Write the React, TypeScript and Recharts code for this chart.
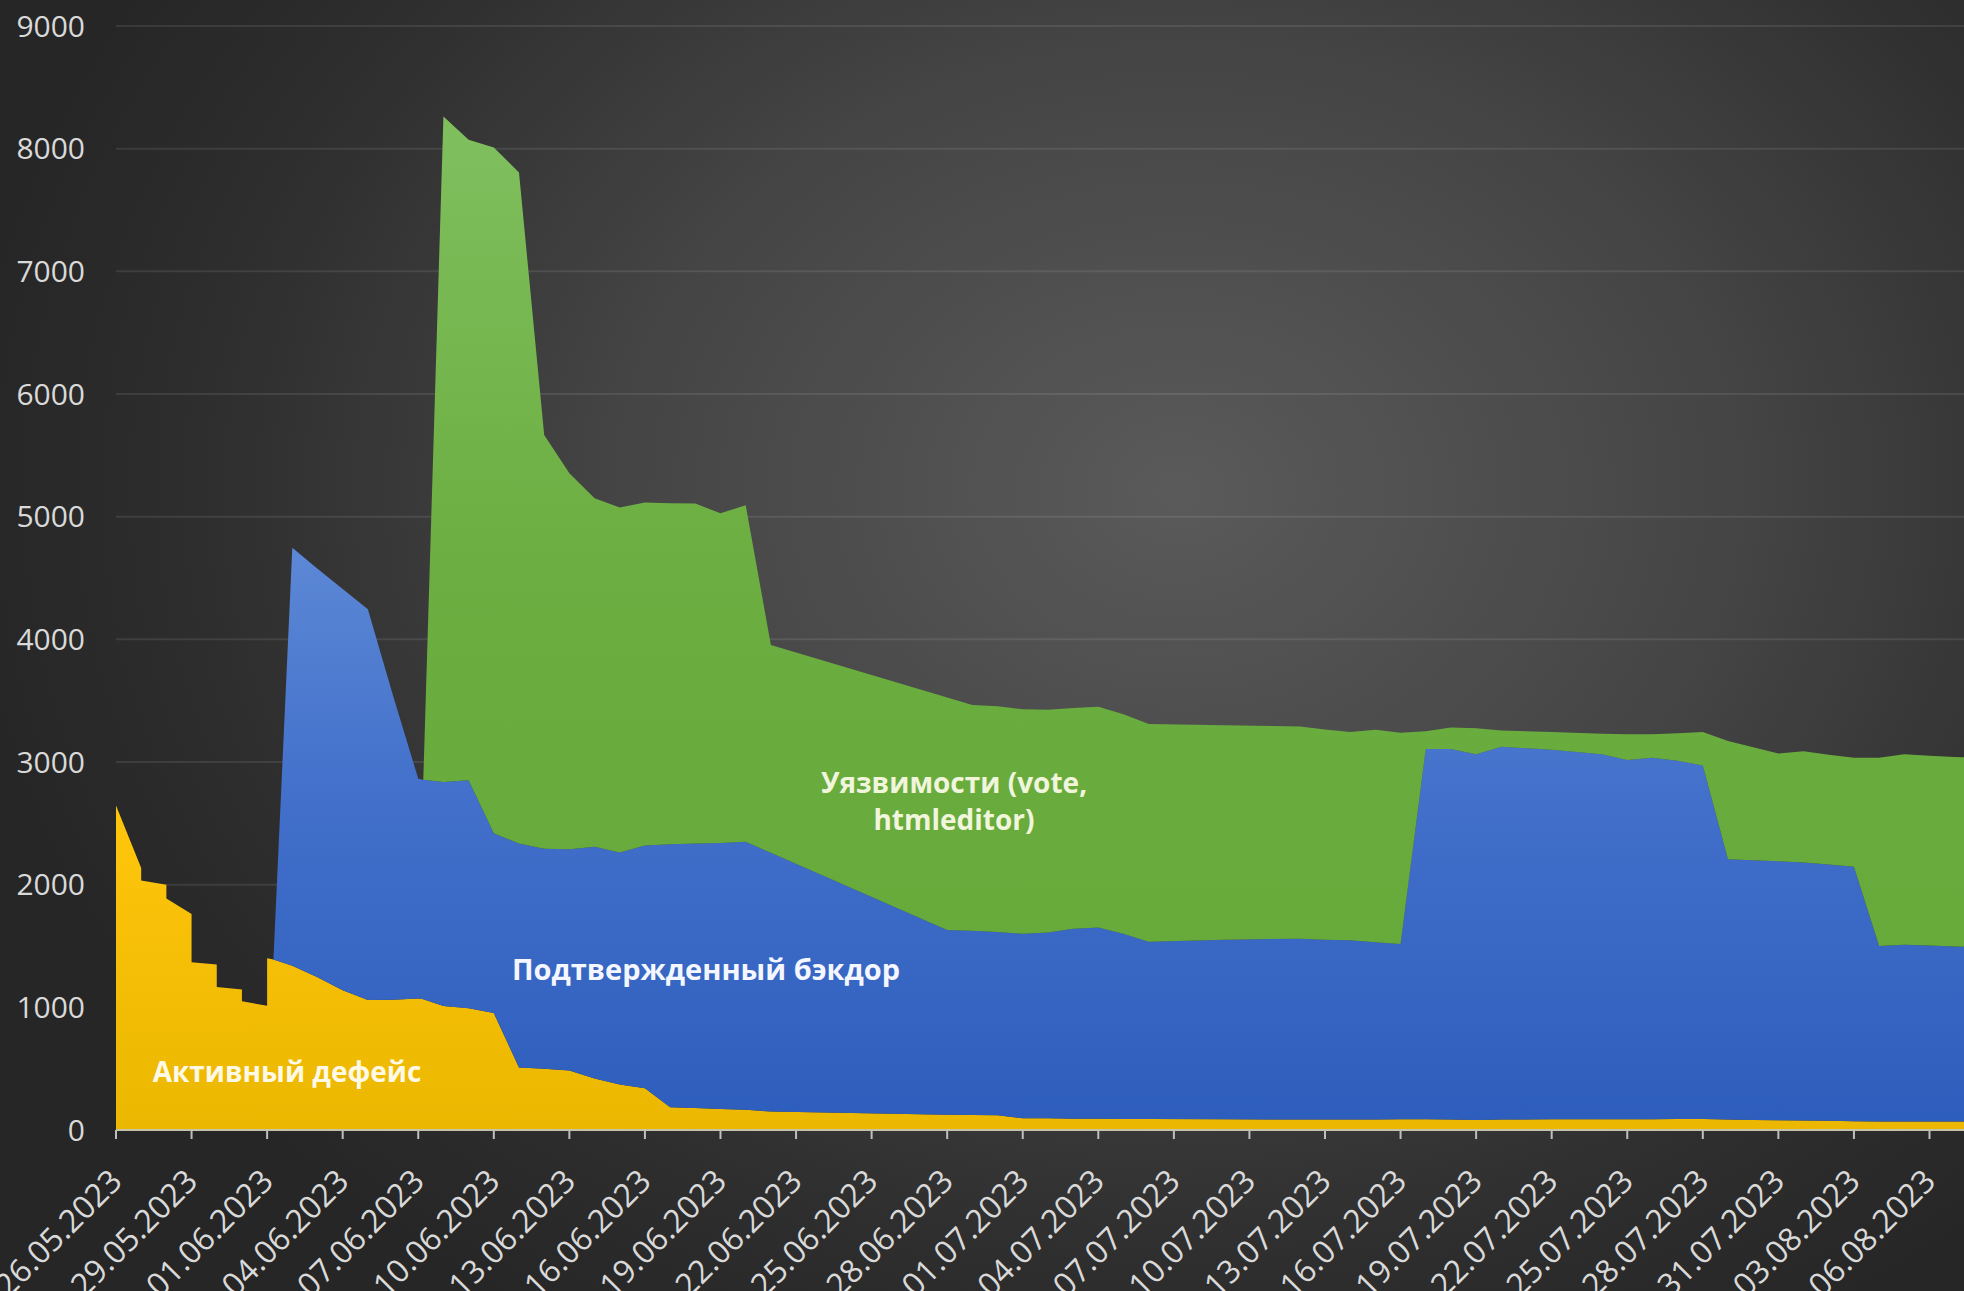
import React from 'react';
import { AreaChart, Area, XAxis, YAxis, CartesianGrid } from 'recharts';

// day offsets from 26.05.2023 (some days carry two readings -> vertical steps)
const DAYS = [
  0, 1, 1, 2, 2, 3, 3, 4, 4, 5, 5, 6, 6, 6.25, 7, 8, 9, 10, 11, 12, 12.2, 13, 14, 15, 16, 17, 18, 19, 20,
  21, 22, 23, 24, 25, 26, 33, 34, 35, 36, 37, 38, 39, 40, 41, 44, 47, 48, 49, 50, 51, 52, 53, 54, 55, 57,
  59, 60, 61, 62, 63, 64, 65, 66, 67, 68, 69, 70, 71, 72, 73, 74,
];

// Активный дефейс
const DEFACE = [
  2645, 2135, 2034, 2000, 1888, 1760, 1368, 1350, 1165, 1145, 1050, 1012, 1400, 1390, 1340, 1245, 1140, 1059, 1062, 1073, 1065, 1011, 992, 953, 510, 500, 485, 420, 370,
  340, 185, 180, 172, 165, 150, 125, 122, 120, 95, 95, 92, 92, 90, 90, 88, 85, 85, 85, 85, 88, 88, 85, 82, 85, 88,
  88, 88, 88, 90, 90, 85, 82, 80, 78, 75, 72, 70, 70, 70, 70, 70,
];

// Подтвержденный бэкдор
const BACKDOOR = [
  0, 0, 0, 0, 0, 0, 0, 0, 0, 0, 0, 0, 0, 0, 3407, 3330, 3270, 3186, 2478, 1790, 1790, 1826, 1860, 1466, 1825, 1792, 1803, 1890, 1893,
  1980, 2145, 2155, 2168, 2185, 2110, 1505, 1503, 1495, 1505, 1515, 1548, 1559, 1510, 1445, 1462, 1475, 1465, 1461, 1445, 1429, 3019, 3022, 2981, 3040, 3012,
  2975, 2928, 2946, 2920, 2882, 2123, 2118, 2110, 2102, 2090, 2074, 1429, 1440, 1435, 1425, 1420,
];

// Уязвимости (vote, htmleditor)
const VULNS = [
  0, 0, 0, 0, 0, 0, 0, 0, 0, 0, 0, 0, 0, 0, 0, 0, 0, 0, 0, 0, 0, 5425, 5220, 5591, 5471, 3374, 3065, 2840, 2812,
  2795, 2780, 2772, 2687, 2743, 1694, 1895, 1840, 1840, 1830, 1815, 1800, 1799, 1790, 1775, 1750, 1730, 1715, 1699, 1733, 1721, 143, 174, 212, 131, 145,
  167, 211, 193, 225, 273, 964, 920, 880, 908, 895, 888, 1535, 1553, 1545, 1545, 1544,
];

const TICK_DAYS = [0, 3, 6, 9, 12, 15, 18, 21, 24, 27, 30, 33, 36, 39, 42, 45, 48, 51, 54, 57, 60, 63, 66, 69, 72];
const TICK_LABELS = [
  '26.05.2023', '29.05.2023', '01.06.2023', '04.06.2023', '07.06.2023', '10.06.2023', '13.06.2023',
  '16.06.2023', '19.06.2023', '22.06.2023', '25.06.2023', '28.06.2023', '01.07.2023', '04.07.2023',
  '07.07.2023', '10.07.2023', '13.07.2023', '16.07.2023', '19.07.2023', '22.07.2023', '25.07.2023',
  '28.07.2023', '31.07.2023', '03.08.2023', '06.08.2023',
];
const Y_TICKS = [0, 1000, 2000, 3000, 4000, 5000, 6000, 7000, 8000, 9000];

const data = DAYS.map((day, i) => ({
  day,
  deface: DEFACE[i],
  backdoor: BACKDOOR[i],
  vulns: VULNS[i],
}));

const FONT = '"Open Sans", "DejaVu Sans", sans-serif';
const LABEL_GREY = '#d9d9d9';

const DateTick = ({ x, y, payload }: any) => {
  const idx = TICK_DAYS.indexOf(payload.value);
  const ax = x + 8;
  const ay = y + 42;
  return (
    <text
      x={ax}
      y={ay}
      transform={`rotate(-45, ${ax}, ${ay})`}
      textAnchor="end"
      fill={LABEL_GREY}
      fontSize={32}
      fontFamily={FONT}
    >
      {TICK_LABELS[idx]}
    </text>
  );
};

const labelStyle: React.CSSProperties = {
  position: 'absolute',
  transform: 'translate(-50%, -50%)',
  fontFamily: FONT,
  fontWeight: 700,
  fontSize: 28,
  whiteSpace: 'nowrap',
  textAlign: 'center',
  pointerEvents: 'none',
};

export default function App() {
  return (
    <div
      style={{
        position: 'absolute',
        left: 0,
        top: 0,
        width: 1964,
        height: 1291,
        overflow: 'hidden',
        background: 'radial-gradient(ellipse 62% 75% at 60% 38%, #5a5a5a 0%, #454545 45%, #2e2e2e 80%, #262626 100%)',
      }}
    >
      <AreaChart width={1964} height={1291} data={data} margin={{ top: 26, right: 0, bottom: 0, left: 0 }}>
        <defs>
          <linearGradient id="gYellow" x1="0" y1="0" x2="0" y2="1">
            <stop offset="0%" stopColor="#ffc60c" />
            <stop offset="100%" stopColor="#ebb700" />
          </linearGradient>
          <linearGradient id="gBlue" x1="0" y1="0" x2="0" y2="1">
            <stop offset="0%" stopColor="#5d88d6" />
            <stop offset="45%" stopColor="#416fca" />
            <stop offset="100%" stopColor="#2e5ebd" />
          </linearGradient>
          <linearGradient id="gGreen" x1="0" y1="0" x2="0" y2="1">
            <stop offset="0%" stopColor="#80bf5e" />
            <stop offset="50%" stopColor="#6cae41" />
            <stop offset="100%" stopColor="#66aa3a" />
          </linearGradient>
        </defs>
        <CartesianGrid vertical={false} stroke="rgba(255,255,255,0.09)" strokeWidth={2} />
        <XAxis
          dataKey="day"
          type="number"
          domain={[0, 73.37]}
          allowDataOverflow
          ticks={TICK_DAYS}
          interval={0}
          height={161}
          axisLine={{ stroke: '#c8c2a8', strokeWidth: 2 }}
          tickLine={{ stroke: '#bfbfbf', strokeWidth: 2 }}
          tickSize={9}
          tickMargin={2}
          tick={<DateTick />}
        />
        <YAxis
          type="number"
          domain={[0, 9000]}
          ticks={Y_TICKS}
          interval={0}
          width={116}
          axisLine={false}
          tickLine={false}
          tickSize={0}
          tickMargin={31}
          tick={{ fill: LABEL_GREY, fontSize: 30, fontFamily: FONT }}
        />
        <Area type="linear" dataKey="deface" stackId="1" stroke="none" fill="url(#gYellow)" fillOpacity={1} isAnimationActive={false} />
        <Area type="linear" dataKey="backdoor" stackId="1" stroke="none" fill="url(#gBlue)" fillOpacity={1} isAnimationActive={false} />
        <Area type="linear" dataKey="vulns" stackId="1" stroke="none" fill="url(#gGreen)" fillOpacity={1} isAnimationActive={false} />
      </AreaChart>

      <div style={{ ...labelStyle, left: 954, top: 801, lineHeight: '37px', color: '#f1f5dc' }}>
        Уязвимости (vote,
        <br />
        htmleditor)
      </div>
      <div style={{ ...labelStyle, left: 706, top: 968, fontSize: 29, color: '#f4f7ff' }}>Подтвержденный бэкдор</div>
      <div style={{ ...labelStyle, left: 287, top: 1071, color: '#fff9e6' }}>Активный дефейс</div>
    </div>
  );
}
